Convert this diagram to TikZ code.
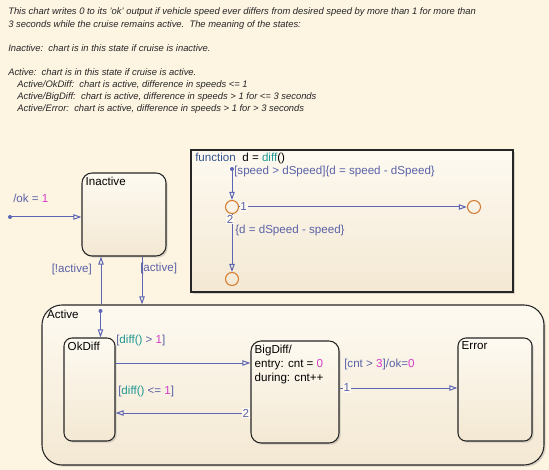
\documentclass[tikz,border=0pt]{standalone}
\usepackage{fontspec}
\setmainfont{Liberation Sans}
\usetikzlibrary{arrows.meta,positioning,shadows}
\definecolor{chartbg}{HTML}{FDF4E2}
\definecolor{stTop}{HTML}{FEFAF1}
\definecolor{stBot}{HTML}{F3E8D3}
\definecolor{trline}{HTML}{5C66B4}
\definecolor{trtext}{HTML}{5A62A6}
\definecolor{numcol}{HTML}{D63CC6}
\definecolor{fncol}{HTML}{1E9690}
\definecolor{kwcol}{HTML}{34548A}
\definecolor{junc}{HTML}{D4782C}
\newcommand{\numc}[1]{\textcolor{numcol}{#1}}
\newcommand{\fnc}[1]{\textcolor{fncol}{#1}}
\newcommand{\stfont}{\fontsize{8.7}{10.5}\selectfont}

\begin{document}
\begin{tikzpicture}[x=0.75pt,y=-0.75pt,>={Triangle[open,length=6pt,width=4pt]},
  state/.style={draw=black!85,line width=0.8pt,rounded corners=7.5pt,
    top color=stTop,bottom color=stBot,inner sep=0pt,
    drop shadow={shadow xshift=1.3pt,shadow yshift=-1.3pt,opacity=.2,fill=black!70}},
  stname/.style={anchor=north west,inner sep=3pt,font=\stfont,text=black},
  trans/.style={draw=trline,line width=0.75pt},
  lbl/.style={font=\stfont,text=trtext,inner sep=0pt},
  tnum/.style={font=\stfont,text=trtext,fill=stTop,inner sep=0.6pt},
  junction/.style={circle,draw=junc,line width=0.8pt,minimum size=9.75pt,inner sep=0pt}]
\fill[chartbg] (0,0) rectangle (549,470);
\useasboundingbox (0,0) rectangle (549,470);

% description
\node[anchor=north west,align=left,inner sep=0pt,text=black!85,
  font=\fontsize{7.05}{9}\selectfont\itshape] (notes) at (8,7) {%
This chart writes 0 to its 'ok' output if vehicle speed ever differs from desired speed by more than 1 for more than\\[0.8pt]
3 seconds while the cruise remains active.\ \ The meaning of the states:\\[9pt]
Inactive:\ \ chart is in this state if cruise is inactive.\\[9pt]
Active:\ \ chart is in this state if cruise is active.\\
\hspace*{6.8pt}Active/OkDiff:\ \ chart is active, difference in speeds <= 1\\
\hspace*{6.8pt}Active/BigDiff:\ \ chart is active, difference in speeds > 1 for <= 3 seconds\\
\hspace*{6.8pt}Active/Error:\ \ chart is active, difference in speeds > 1 for > 3 seconds};

% states
\node[state,minimum width=63pt,minimum height=62.25pt,
  label={[stname]north west:Inactive}] (Inactive) at (124,214.5) {};
\node[state,rounded corners=15pt,minimum width=376.5pt,minimum height=120pt,
  label={[stname,inner sep=4pt]north west:Active}] (Active) at (293,385) {};
\node[state,rounded corners=6pt,minimum width=38.25pt,minimum height=77.25pt,
  label={[stname]north west:OkDiff}] (OkDiff) at (89.5,389.5) {};
\node[state,minimum width=66pt,minimum height=76.5pt,
  label={[stname,align=left]north west:BigDiff/\\entry: cnt = \numc{0}\\during: cnt++}] (BigDiff) at (295,392) {};
\node[state,rounded corners=6pt,minimum width=55.5pt,minimum height=77.25pt,
  label={[stname]north west:Error}] (Error) at (495,389.5) {};

% graphical function
\node[state,rounded corners=0pt,minimum width=241.5pt,minimum height=106.5pt] (Diff) at (352,221) {};
\node[anchor=west,font=\stfont,inner sep=0pt] (fhead) at (195,158)
  {\textcolor{kwcol}{function}\ \ d = \fnc{diff}()};
\node[junction] (J1) at (232,207) {};
\node[junction] (J2) at (474,207) {};
\node[junction] (J3) at (232,279) {};
\coordinate (fdot) at (232,169);
\fill[trline] (fdot) circle (1.5pt);
\draw[trans,->] (fdot) -- (J1.north);
\draw[trans,->] (J1.east) -- (J2.west) node[tnum,at start,anchor=west] {1};
\draw[trans,->] (J1.south) -- (J3.north) node[tnum,at start,anchor=north,xshift=-1.5pt] {2};
\node[lbl,anchor=west] (t1) at (234,172) {[speed > dSpeed]\{d = speed - dSpeed\}};
\node[lbl,anchor=west] (t2) at (235,231) {\{d = dSpeed - speed\}};

% top level transitions
\coordinate (okdot) at (10,217);
\fill[trline] (okdot) circle (1.5pt);
\draw[trans,->] (okdot) -- (okdot -| Inactive.west);
\node[lbl,anchor=west] (okinit) at (13,198) {/ok = \numc{1}};
\draw[trans,->] (Inactive.south -| 142,0) -- (Active.north -| 142,0);
\node[lbl,anchor=west] (tact) at (140,268) {[active]};
\draw[trans,->] (Active.north -| 101,0) -- (Inactive.south -| 101,0);
\node[lbl,anchor=east] (tinact) at (92,270) {[!active]};

% inside Active
\coordinate (okddot) at (100.5,311);
\fill[trline] (okddot) circle (1.5pt);
\draw[trans,->] (okddot) -- (okddot |- OkDiff.north);
\coordinate (oka) at (OkDiff.east |- 0,363);
\draw[trans,->] (oka) -- (oka -| BigDiff.west);
\node[lbl,anchor=west] (tbig) at (116,340) {[\fnc{diff()} > \numc{1}]};
\coordinate (bgb) at (BigDiff.west |- 0,413);
\draw[trans,->] (bgb) -- (bgb -| OkDiff.east) node[tnum,at start,anchor=east] {2};
\node[lbl,anchor=west] (tok) at (118,391) {[\fnc{diff()} <= \numc{1}]};
\coordinate (bgc) at (BigDiff.east |- 0,388);
\draw[trans,->] (bgc) -- (bgc -| Error.west) node[tnum,at start,anchor=west,xshift=2pt] {1};
\node[lbl,anchor=west] (terr) at (344,364) {[cnt > \numc{3}]/ok=\numc{0}};
\end{tikzpicture}
\end{document}
